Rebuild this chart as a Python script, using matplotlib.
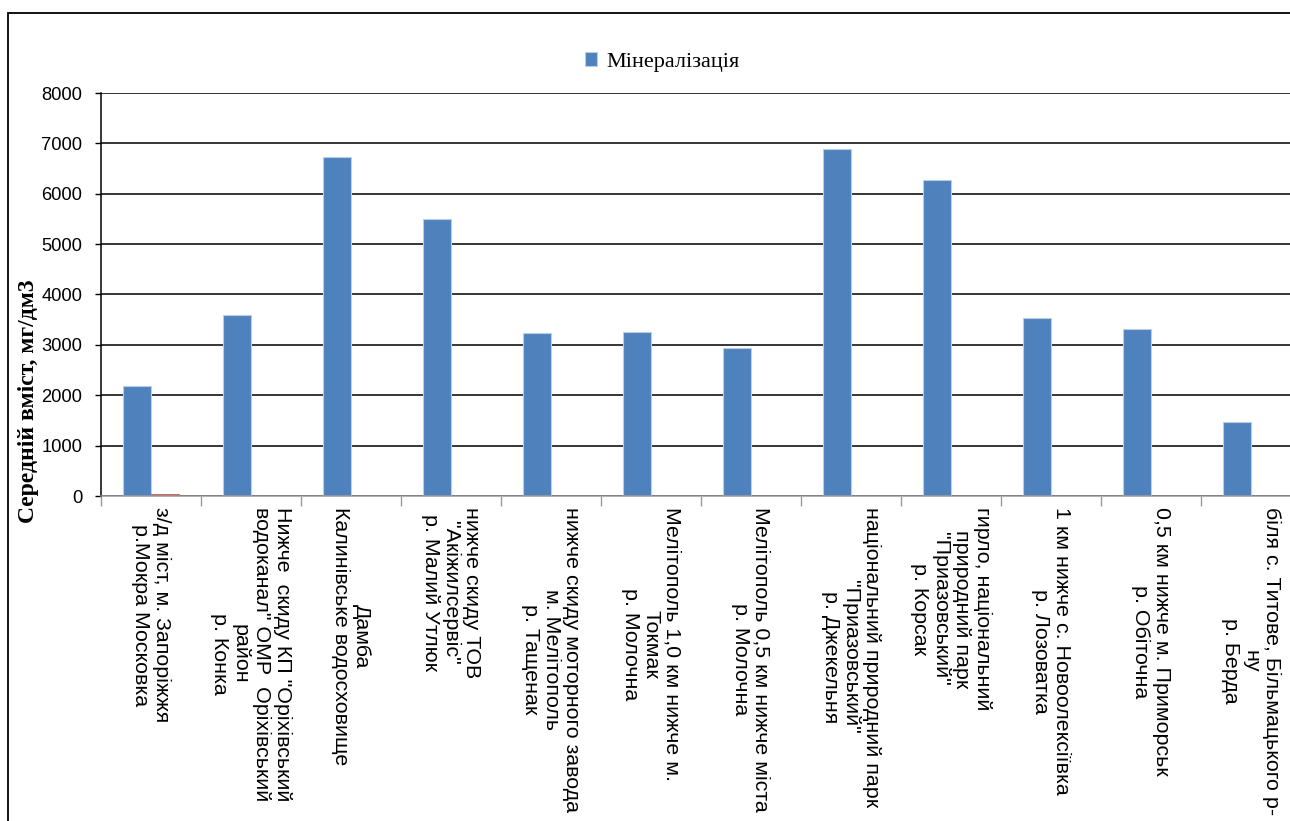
import matplotlib
matplotlib.use("Agg")
import matplotlib.pyplot as plt
from matplotlib.patches import Rectangle
import numpy as np

categories = [
    "з/д міст, м. Запоріжжя\nр.Мокра Московка",
    "Нижче  скиду КП \"Оріхівський\nводоканал\" ОМР  Оріхівський\nрайон\nр. Конка",
    "Дамба\nКалинівське водосховище",
    "нижче скиду ТОВ\n\"Акіжилсервіс\"\nр. Малий Утлюк",
    "нижче скиду моторного завода\nм. Мелітополь\nр. Тащенак",
    "Мелітополь 1,0 км нижче м.\nТокмак\nр. Молочна",
    "Мелітополь 0,5 км нижче міста\nр. Молочна",
    "національний природний парк\n\"Приазовський\"\nр. Джекельня",
    "гирло, національний\nприродний парк\n\"Приазовський\"\nр. Корсак",
    "1 км нижче с. Новоолексіївка\nр. Лозоватка",
    "0,5 км нижче м. Приморськ\nр. Обіточна",
    "біля с. Титове, Більмацького р-\nну\nр. Берда",
]
mineralization = [2190, 3590, 6730, 5490, 3230, 3260, 2930, 6880, 6280, 3530, 3325, 1478]
second_series = [40, 0, 0, 0, 0, 0, 0, 0, 0, 0, 0, 0]
series_name = "Мінералізація"
y_label = "Середній вміст, мг/дм3"
y_ticks = [0, 1000, 2000, 3000, 4000, 5000, 6000, 7000, 8000]

W, H = 1290, 821
fig = plt.figure(figsize=(W / 100, H / 100), dpi=100)

# outer chart frame
fig.patches.append(Rectangle((8 / W, -0.1), 1.2, 1 - 13 / H + 0.1, transform=fig.transFigure,
                             fill=False, edgecolor="black", linewidth=1.3, zorder=0))

left = 101 / W
width = 1200 / W
bottom = 1 - 496 / H
top = 1 - 93 / H
ax = fig.add_axes([left, bottom, width, top - bottom])

x = np.arange(len(categories))
bw = 0.28
ax.bar(x - bw / 2, mineralization, width=bw, color="#4F81BD", edgecolor="#B9CDE5",
       linewidth=0.8, label=series_name, zorder=3)
ax.bar(x + bw / 2, second_series, width=bw, color="#C0504D", edgecolor="#C0504D",
       linewidth=0.5, zorder=3)

ax.set_xlim(-0.5, len(categories) - 0.5)
ax.set_ylim(0, 8000)
ax.set_yticks(y_ticks)
ax.set_yticklabels([str(v) for v in y_ticks], fontfamily="Liberation Sans", fontsize=13.2)
ax.tick_params(axis="y", length=4.5, width=1, color="black", pad=9)
ax.yaxis.grid(True, color="black", linewidth=1.1, zorder=1)
ax.set_axisbelow(True)

ax.set_xticks(x)
ax.set_xticklabels(categories, rotation=270, ha="center", va="top", multialignment="center",
                   fontfamily="Liberation Sans", fontsize=15.4, linespacing=1.12)
ax.tick_params(axis="x", which="major", length=0, pad=8)
ax.set_xticks(np.arange(-0.5, len(categories), 1.0), minor=True)
ax.tick_params(axis="x", which="minor", length=7.5, width=1, color="#9A9A9A")

for s in ["top", "right"]:
    ax.spines[s].set_visible(False)
ax.spines["left"].set_color("black")
ax.spines["left"].set_linewidth(1.1)
ax.spines["bottom"].set_color("#9A9A9A")
ax.spines["bottom"].set_linewidth(1.1)
ax.spines["bottom"].set_zorder(4)

fig.text(29 / W, 1 - 401 / H, y_label, rotation=90, ha="center", va="center",
         fontfamily="Liberation Serif", fontweight="bold", fontsize=17)

handles, labels = ax.get_legend_handles_labels()
leg = fig.legend(handles[:1], labels[:1], loc="center", bbox_to_anchor=(662 / W, 1 - 62 / H),
                 frameon=False, prop={"family": "Liberation Serif", "size": 16},
                 handlelength=0.55, handleheight=0.55, handletextpad=0.4)

fig.savefig("out.png", dpi=100)
